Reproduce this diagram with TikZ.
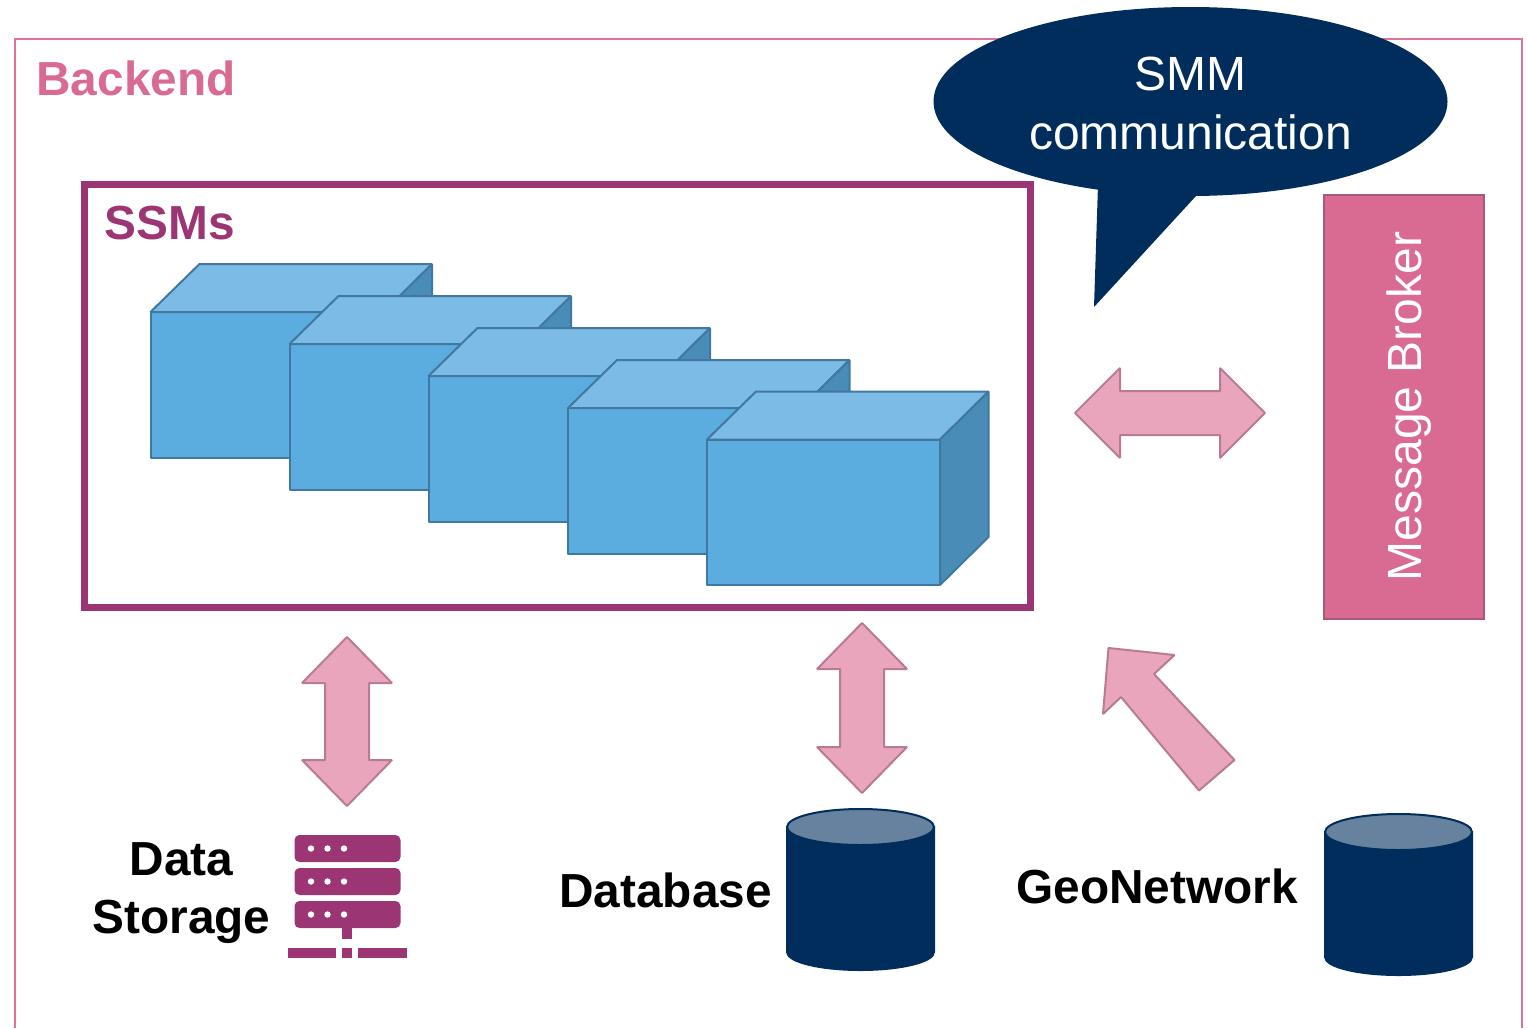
\documentclass[tikz,border=0pt]{standalone}
\usepackage{fontspec}
\setmainfont{Liberation Sans}
\definecolor{frameP}{HTML}{E0739A}
\definecolor{ssmP}{HTML}{9C3573}
\definecolor{brokerP}{HTML}{D96B93}
\definecolor{brokerL}{HTML}{A85878}
\definecolor{arrowF}{HTML}{E8A5BB}
\definecolor{arrowL}{HTML}{B87A95}
\definecolor{navy}{HTML}{002D5B}
\definecolor{navyTop}{HTML}{66829F}
\definecolor{cubeF}{HTML}{5BADE0}
\definecolor{cubeT}{HTML}{7CBBE6}
\definecolor{cubeS}{HTML}{4A8CB8}
\definecolor{cubeL}{HTML}{41789F}
\newcommand{\ssmcube}[2]{%
  \begin{scope}[shift={(#1,#2)}]
    \draw[cubeline,fill=cubeF] (0,48) rectangle (233,193.5);
    \draw[cubeline,fill=cubeT] (0,48) -- (49,0) -- (281.5,0) -- (233,48) -- cycle;
    \draw[cubeline,fill=cubeS] (233,48) -- (281.5,0) -- (281.5,145.5) -- (233,193.5) -- cycle;
  \end{scope}}
\newcommand{\dbcyl}[2]{%
  \begin{scope}[shift={(#1,#2)}]
    \draw[cylline,fill=navy] (-73.5,0) -- (-73.5,125) arc[start angle=180,end angle=0,x radius=73.5,y radius=18] -- (73.5,0) -- cycle;
    \draw[cylline,fill=navyTop] (0,0) ellipse[x radius=73.5,y radius=18];
  \end{scope}}
\newcommand{\vdouble}[3]{% centre x, top tip y, bottom tip y
  \draw[fatarrow] (#1,#2) -- ({#1+45},{#2+46}) -- ({#1+22},{#2+46}) -- ({#1+22},{#3-46}) -- ({#1+45},{#3-46}) -- (#1,#3)
    -- ({#1-45},{#3-46}) -- ({#1-22},{#3-46}) -- ({#1-22},{#2+46}) -- ({#1-45},{#2+46}) -- cycle;}
\newcommand{\iconbar}[1]{%
  \fill[ssmP,rounded corners=2.5pt] (294.5,#1) rectangle (400.5,{#1+27});
  \fill[white] (311,{#1+13.5}) circle[radius=3.2] (327.5,{#1+13.5}) circle[radius=3.2] (344,{#1+13.5}) circle[radius=3.2];}
\tikzset{
  x=0.5pt,y=-0.5pt,
  cubeline/.style={draw=cubeL,line width=1pt,line join=bevel},
  cylline/.style={draw=navy,line width=1pt},
  fatarrow/.style={draw=arrowL,fill=arrowF,line width=1pt,line join=bevel},
  lbl/.style={inner sep=0pt,font=\fontsize{24pt}{29pt}\selectfont},
  boldlbl/.style={inner sep=0pt,font=\fontsize{23.9pt}{29pt}\selectfont\bfseries},
}
\begin{document}
\begin{tikzpicture}
\useasboundingbox (0,0) rectangle (1529,1028);
% Backend frame (open at the bottom)
\draw[frameP,line width=1pt] (15,1028) -- (15,39) -- (1522,39) -- (1522,1028);
\node[boldlbl,text=brokerP,anchor=base west] (backend) at (36,95) {Backend};
% SSM box
\draw[ssmP,line width=3.5pt] (84,184) rectangle (1030,607);
\node[boldlbl,text=ssmP,anchor=base west] (ssms) at (104.5,239.5) {SSMs};
\ssmcube{150.5}{264}
\ssmcube{289.5}{296}
\ssmcube{428.5}{328}
\ssmcube{568}{360}
\ssmcube{707}{391.5}
% Speech bubble
\fill[navy] (1190.5,101.5) ellipse[x radius=257,y radius=94.5];
\fill[navy] (1098,185) -- (1094,307) -- (1196,196) -- (1196,185) -- cycle;
\node[lbl,text=white,anchor=base] (smm1) at (1190.5,90) {SMM};
\node[lbl,text=white,anchor=base] (smm2) at (1190.5,149.5) {communication};
% Message broker
\draw[brokerL,fill=brokerP,line width=1pt] (1324,195) rectangle (1483.5,619);
\node[lbl,text=white,rotate=90,anchor=base] (broker) at (1421,406.5) {Message Broker};
% Arrows
\draw[fatarrow] (1075,413) -- (1120,368) -- (1120,391) -- (1220,391) -- (1220,368) -- (1265,413)
  -- (1220,458) -- (1220,435) -- (1120,435) -- (1120,458) -- cycle;
\vdouble{347}{637}{806}
\vdouble{862}{623}{793}
\draw[fatarrow] (1108.5,648) -- (1174.5,655) -- (1154,674) -- (1234.5,760) -- (1199,790.5) -- (1121,697) -- (1103,714) -- cycle;
% Data storage
\node[boldlbl,text=black,anchor=base] (data) at (181.5,875) {Data};
\node[boldlbl,text=black,anchor=base] (storage) at (181.5,933) {Storage};
\iconbar{835}
\iconbar{868}
\iconbar{901}
\fill[ssmP] (342,928) rectangle (352,939);
\fill[ssmP] (342,948) rectangle (352,958);
\fill[ssmP] (288,948) rectangle (335.5,958);
\fill[ssmP] (358,948) rectangle (407,958);
% Database
\node[boldlbl,text=black,anchor=base west] (database) at (559,907) {Database};
\dbcyl{860.5}{827}
% GeoNetwork
\node[boldlbl,text=black,anchor=base west] (geonet) at (1016,903) {GeoNetwork};
\dbcyl{1398.5}{832}
\end{tikzpicture}
\end{document}
